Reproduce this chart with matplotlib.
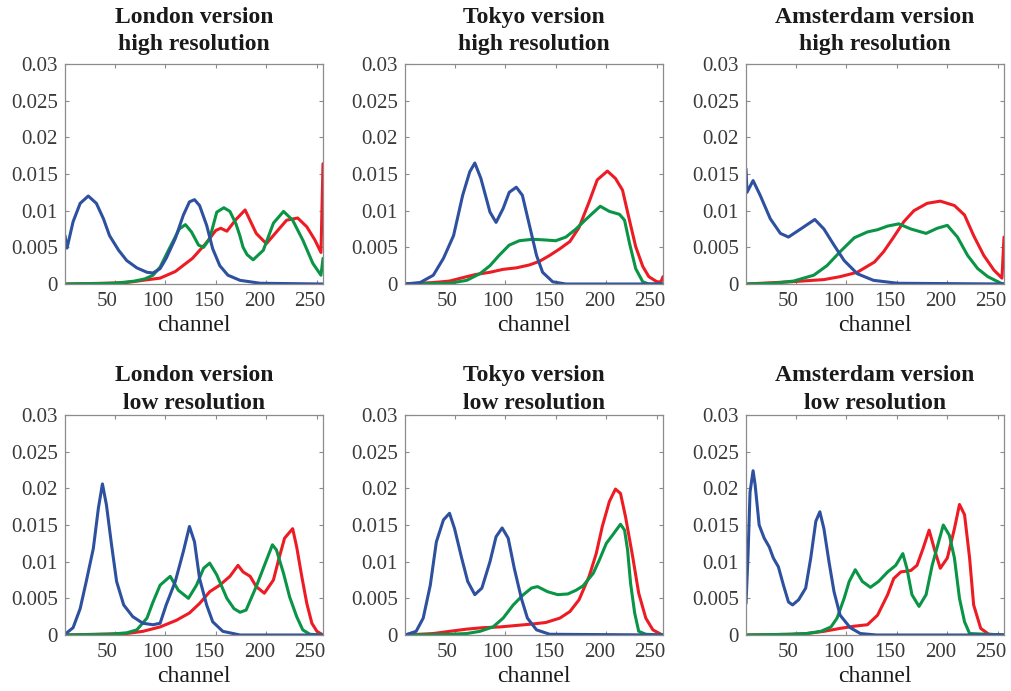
import matplotlib
matplotlib.use("Agg")
import matplotlib.pyplot as plt
import matplotlib.transforms as mtransforms
from matplotlib.ticker import FuncFormatter

# ---- data (channel, normalised count) ----
# London, high resolution
LH_R_X = [1, 40, 62, 78, 95, 110, 127, 140, 150, 155, 161, 170, 179, 190, 200, 210, 220, 231, 240, 248, 254, 256]
LH_R_Y = [0, 0.0001, 0.0002, 0.0005, 0.0008, 0.0017, 0.0035, 0.0055, 0.0073, 0.0076, 0.0072, 0.0088, 0.0101,
          0.0069, 0.0055, 0.0071, 0.0087, 0.009, 0.0078, 0.006, 0.0043, 0.0164]
LH_G_X = [1, 50, 70, 80, 88, 95, 104, 114, 120, 126, 133, 138, 144, 151, 158, 164, 170, 174, 177, 181, 187,
          197, 207, 217, 226, 236, 246, 254, 256]
LH_G_Y = [0, 0.0001, 0.0004, 0.0007, 0.0012, 0.0023, 0.0048, 0.0075, 0.0081, 0.0071, 0.0053, 0.005, 0.0062,
          0.0098, 0.0104, 0.0099, 0.0082, 0.0065, 0.005, 0.004, 0.0033, 0.0046, 0.0083, 0.0099, 0.0087, 0.006,
          0.0028, 0.0012, 0.0035]
LH_B_X = [1, 3, 9, 16, 24, 32, 39, 45, 54, 62, 72, 82, 88, 95, 101, 110, 118, 124, 129, 134, 141, 147, 154,
          162, 174, 194, 256]
LH_B_Y = [0.0066, 0.0049, 0.0085, 0.011, 0.012, 0.011, 0.0089, 0.0066, 0.0046, 0.0032, 0.0022, 0.0016, 0.0015,
          0.0021, 0.0035, 0.0062, 0.0094, 0.0112, 0.0115, 0.0107, 0.008, 0.0048, 0.0025, 0.0012, 0.0005, 0.0001, 0]

# Tokyo, high resolution
TH_R_X = [1, 29, 45, 62, 71, 85, 98, 111, 124, 134, 144, 154, 164, 173, 183, 191, 201, 209, 216, 222, 229,
          236, 242, 250, 254, 256]
TH_R_Y = [0, 0.0002, 0.0004, 0.001, 0.0013, 0.0016, 0.002, 0.0022, 0.0026, 0.0031, 0.0039, 0.0048, 0.0058,
          0.0077, 0.0112, 0.0142, 0.0154, 0.0144, 0.0128, 0.0092, 0.0051, 0.0024, 0.001, 0.0003, 0.0003, 0.001]
TH_G_X = [1, 45, 62, 75, 85, 94, 104, 114, 127, 140, 150, 160, 170, 179, 186, 194, 203, 213, 218, 223, 229,
          236, 242, 256]
TH_G_Y = [0, 0.0001, 0.0005, 0.0014, 0.0025, 0.0039, 0.0053, 0.0059, 0.0061, 0.006, 0.0059, 0.0064, 0.0075,
          0.0087, 0.0096, 0.0106, 0.0099, 0.0095, 0.0087, 0.0055, 0.0021, 0.0003, 0, 0]
TH_B_X = [1, 16, 29, 39, 49, 58, 65, 70, 76, 85, 91, 98, 104, 111, 117, 124, 131, 137, 147, 160, 256]
TH_B_Y = [0, 0.0002, 0.0012, 0.0035, 0.0066, 0.0121, 0.0153, 0.0165, 0.0144, 0.0098, 0.0084, 0.0103, 0.0125,
          0.0132, 0.0121, 0.008, 0.0039, 0.0016, 0.0003, 0, 0]

# Amsterdam, high resolution
AH_R_X = [1, 45, 78, 94, 111, 128, 137, 147, 157, 167, 180, 193, 207, 217, 226, 236, 246, 254, 256]
AH_R_Y = [0, 0.0003, 0.0006, 0.001, 0.0016, 0.003, 0.0044, 0.0064, 0.0085, 0.01, 0.011, 0.0113, 0.0107,
          0.0094, 0.0066, 0.0039, 0.0019, 0.0008, 0.0064]
AH_G_X = [1, 28, 48, 68, 81, 94, 108, 121, 131, 141, 152, 164, 179, 190, 200, 210, 220, 230, 240, 253, 256]
AH_G_Y = [0, 0.0001, 0.0004, 0.0012, 0.0025, 0.0044, 0.0063, 0.0071, 0.0074, 0.0079, 0.0082, 0.0075, 0.0069,
          0.0076, 0.008, 0.0064, 0.0039, 0.0021, 0.001, 0.0001, 0]
AH_B_X = [1, 2, 8, 15, 25, 35, 43, 55, 69, 78, 88, 98, 111, 127, 151, 256]
AH_B_Y = [0.0157, 0.0125, 0.0141, 0.0121, 0.0089, 0.0069, 0.0064, 0.0075, 0.0088, 0.0075, 0.0053, 0.0032,
          0.0014, 0.0005, 0.0001, 0]

# London, low resolution
LL_R_X = [1, 62, 78, 95, 111, 124, 134, 144, 154, 164, 172, 177, 184, 190, 198, 207, 212, 218, 226, 230, 235,
          240, 245, 250, 256]
LL_R_Y = [0, 0.0002, 0.0005, 0.0011, 0.002, 0.003, 0.0043, 0.0059, 0.0068, 0.008, 0.0095, 0.0086, 0.008,
          0.0066, 0.0057, 0.0075, 0.0102, 0.0132, 0.0145, 0.012, 0.008, 0.0043, 0.0016, 0.0005, 0]
LL_G_X = [1, 45, 62, 72, 82, 88, 95, 105, 113, 123, 131, 138, 144, 151, 161, 168, 174, 180, 190, 197, 206,
          210, 217, 223, 230, 236, 243, 256]
LL_G_Y = [0, 0.0001, 0.0003, 0.0007, 0.0023, 0.0045, 0.0068, 0.008, 0.0061, 0.005, 0.0068, 0.0091, 0.0098,
          0.0082, 0.005, 0.0036, 0.0031, 0.0034, 0.0066, 0.0091, 0.0123, 0.0116, 0.0084, 0.0052, 0.0025, 0.0007,
          0.0001, 0]
LL_B_X = [1, 9, 16, 22, 29, 34, 38, 42, 47, 52, 59, 68, 78, 88, 95, 101, 110, 118, 124, 129, 134, 141, 147,
          157, 174, 256]
LL_B_Y = [0.0001, 0.001, 0.0036, 0.0073, 0.0118, 0.0173, 0.0206, 0.0177, 0.0123, 0.0073, 0.0041, 0.0025,
          0.0016, 0.0014, 0.0016, 0.0041, 0.0073, 0.0114, 0.0148, 0.0127, 0.0077, 0.0041, 0.0018, 0.0005, 0, 0]

# Tokyo, low resolution
TL_R_X = [1, 29, 45, 62, 78, 95, 111, 127, 140, 154, 164, 173, 183, 190, 196, 203, 209, 214, 219, 226, 232,
          239, 246, 254, 256]
TL_R_Y = [0, 0.0002, 0.0005, 0.0008, 0.001, 0.0011, 0.0013, 0.0015, 0.0017, 0.0023, 0.0032, 0.0048, 0.008,
          0.0111, 0.0148, 0.0182, 0.0199, 0.0193, 0.0161, 0.0107, 0.0057, 0.0023, 0.0007, 0.0001, 0]
TL_G_X = [1, 45, 62, 75, 88, 98, 108, 118, 126, 132, 142, 152, 162, 170, 177, 187, 193, 200, 206, 214, 218,
          221, 224, 228, 232, 239, 256]
TL_G_Y = [0, 0.0001, 0.0002, 0.0005, 0.0011, 0.0023, 0.0041, 0.0055, 0.0064, 0.0066, 0.0059, 0.0055, 0.0056,
          0.0061, 0.0067, 0.0084, 0.0102, 0.0125, 0.0136, 0.0151, 0.0143, 0.0116, 0.007, 0.003, 0.0005, 0.0001, 0]
TL_B_X = [1, 12, 19, 26, 32, 39, 45, 50, 57, 63, 70, 77, 85, 91, 97, 103, 109, 116, 122, 131, 144, 256]
TL_B_Y = [0, 0.0005, 0.0023, 0.0068, 0.0127, 0.0157, 0.0166, 0.0145, 0.0105, 0.0073, 0.0055, 0.0064, 0.01,
          0.0134, 0.0146, 0.0132, 0.0091, 0.005, 0.0023, 0.0007, 0.0001, 0]

# Amsterdam, low resolution
AL_R_X = [1, 45, 61, 78, 94, 108, 121, 131, 141, 147, 154, 164, 170, 176, 182, 187, 193, 200, 207, 212, 217,
          222, 226, 233, 241, 256]
AL_R_Y = [0, 0.0001, 0.0002, 0.0005, 0.0009, 0.0012, 0.0014, 0.0027, 0.0055, 0.0077, 0.0086, 0.0088, 0.0095,
          0.0118, 0.0143, 0.0118, 0.0091, 0.0105, 0.0145, 0.0178, 0.0164, 0.0105, 0.0041, 0.0009, 0.0001, 0]
AL_G_X = [1, 45, 61, 75, 85, 91, 98, 103, 109, 116, 124, 132, 141, 149, 156, 160, 165, 172, 179, 185, 196,
          202, 207, 212, 217, 222, 256]
AL_G_Y = [0, 0.0001, 0.0002, 0.0005, 0.0011, 0.0023, 0.005, 0.0073, 0.0089, 0.0073, 0.0065, 0.0073, 0.0086,
          0.0095, 0.0111, 0.0091, 0.0055, 0.0039, 0.0055, 0.0095, 0.015, 0.0136, 0.0105, 0.005, 0.0018, 0.0002, 0]
AL_B_X = [1, 3, 5, 8, 10, 14, 19, 24, 28, 33, 38, 43, 47, 53, 60, 65, 70, 74, 78, 83, 88, 94, 104, 114, 130, 256]
AL_B_Y = [0.0043, 0.0109, 0.0195, 0.0224, 0.0205, 0.015, 0.0132, 0.012, 0.0105, 0.0093, 0.0068, 0.0045,
          0.0041, 0.0048, 0.0064, 0.0105, 0.0155, 0.0168, 0.0145, 0.01, 0.0059, 0.0027, 0.001, 0.0002, 0, 0]

TITLES = ['London version\nhigh resolution', 'Tokyo version\nhigh resolution', 'Amsterdam version\nhigh resolution',
          'London version\nlow resolution', 'Tokyo version\nlow resolution', 'Amsterdam version\nlow resolution']
PANELS = [
    ((LH_R_X, LH_R_Y), (LH_G_X, LH_G_Y), (LH_B_X, LH_B_Y)),
    ((TH_R_X, TH_R_Y), (TH_G_X, TH_G_Y), (TH_B_X, TH_B_Y)),
    ((AH_R_X, AH_R_Y), (AH_G_X, AH_G_Y), (AH_B_X, AH_B_Y)),
    ((LL_R_X, LL_R_Y), (LL_G_X, LL_G_Y), (LL_B_X, LL_B_Y)),
    ((TL_R_X, TL_R_Y), (TL_G_X, TL_G_Y), (TL_B_X, TL_B_Y)),
    ((AL_R_X, AL_R_Y), (AL_G_X, AL_G_Y), (AL_B_X, AL_B_Y)),
]
COLORS = ['#ed1c24', '#0a9446', '#2d509f']

plt.rcParams['font.family'] = ['Liberation Serif', 'DejaVu Serif']

fig = plt.figure(figsize=(10.11, 6.91), dpi=100)

W, H = 1011, 691
lefts = [65, 405, 746]
tops = [64, 415]
title_pads = [10, 4.5]
aw, ah = 258, 220

fmt = FuncFormatter(lambda v, p: '0' if v == 0 else ('%g' % v))

for i, (title, curves) in enumerate(zip(TITLES, PANELS)):
    r, c = divmod(i, 3)
    ax = fig.add_axes([lefts[c] / W, 1 - (tops[r] + ah) / H, aw / W, ah / H])
    for (x, y), col in zip(curves, COLORS):
        ax.plot(x, y, color=col, lw=2.2, solid_joinstyle='round', solid_capstyle='round')
    ax.set_xlim(1, 256)
    ax.set_ylim(0, 0.03)
    ax.set_xticks([50, 100, 150, 200, 250])
    ax.set_yticks([0, 0.005, 0.01, 0.015, 0.02, 0.025, 0.03])
    ax.yaxis.set_major_formatter(fmt)
    ax.tick_params(direction='in', top=True, right=True, length=3, width=0.8,
                   color='#8c8c8c', labelcolor='#3a3a3a', labelsize=15)
    ax.tick_params(axis='x', pad=6)
    ax.tick_params(axis='y', pad=5)
    for s in ax.spines.values():
        s.set_color('#8c8c8c')
        s.set_linewidth(0.9)
    # labels sit slightly left of their ticks in the reference
    shift = mtransforms.ScaledTranslation(-7 / 100, 0, fig.dpi_scale_trans)
    for lab in ax.get_xticklabels():
        lab.set_transform(lab.get_transform() + shift)
    ax.set_xlabel('channel', fontsize=17, color='#1a1a1a', labelpad=3)
    ax.set_title(title, fontsize=17, fontweight='bold', pad=title_pads[r], linespacing=1.4, color='#1a1a1a')

fig.savefig('out.png', dpi=100)
